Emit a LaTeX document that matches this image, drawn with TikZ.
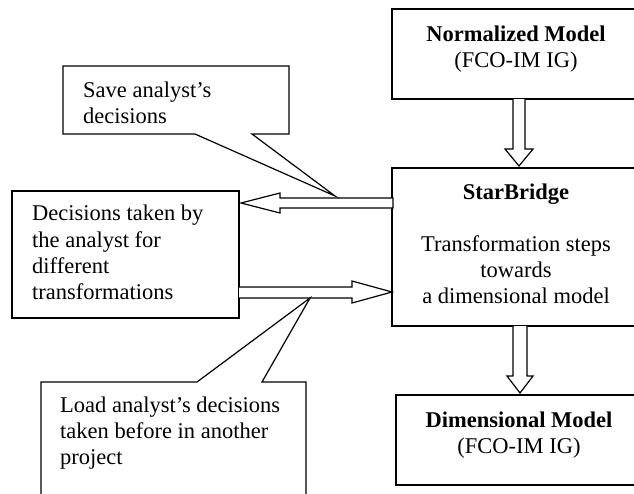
\documentclass[tikz,border=0pt]{standalone}
\usepackage{fontspec}
\setmainfont{Liberation Serif}
\begin{document}
\begin{tikzpicture}[x=1pt,y=-1pt,
  ln/.style={line width=1.2pt,line join=miter},
  boxst/.style={ln,draw=black,fill=white},
  lbl/.style={anchor=base west,inner sep=0pt,font=\fontsize{22.5}{26.3}\selectfont},
  clbl/.style={anchor=base,inner sep=0pt,font=\fontsize{22.5}{26.3}\selectfont},
  blbl/.style={anchor=base,inner sep=0pt,font=\fontsize{22.5}{26.3}\selectfont\bfseries}]
\useasboundingbox (0,0) rectangle (634,493);
\clip (0,0) rectangle (634,493);
% coordinates of box corners
\coordinate (normNW) at (392,9);   \coordinate (normSE) at (660,99);
\coordinate (starNW) at (392,168); \coordinate (starSE) at (660,326);
\coordinate (dimNW) at (396,395);  \coordinate (dimSE) at (660,485);
\coordinate (decNW) at (12,191);   \coordinate (decSE) at (239,318);
% boxes
\draw[boxst] (normNW) rectangle (normSE);
\draw[boxst] (starNW) rectangle (starSE);
\draw[boxst] (dimNW) rectangle (dimSE);
\draw[boxst] (decNW) rectangle (decSE);
% block arrow normalized -> starbridge
\draw[boxst] (513,99) -- (513,149) -- (505,149) -- (519,166) -- (533,149) -- (525,149) -- (525,99);
% block arrow starbridge -> dimensional
\draw[boxst] (513,326) -- (513,376) -- (507,376) -- (520,393) -- (533,376) -- (527,376) -- (527,326);
% block arrow starbridge -> decisions
\draw[boxst] (393,198) -- (280,198) -- (280,193) -- (241,203) -- (280,213) -- (280,208) -- (393,208) -- cycle;
% block arrow decisions -> starbridge
\draw[boxst] (239,287) -- (352,287) -- (352,281) -- (392,292) -- (352,303) -- (352,298) -- (239,298);
% callouts
\coordinate (saveTip) at (335,196);
\draw[boxst] (63,66) -- (289,66) -- (289,134) -- (252,134) -- (saveTip) -- (195,134) -- (63,134) -- cycle;
\coordinate (loadTip) at (310,298);
\draw[boxst] (41,382) -- (197,382) -- (loadTip) -- (262,382) -- (306,382) -- (306,520) -- (41,520) -- cycle;
% texts
\node[blbl] (n1) at (516,41) {Normalized Model};
\node[clbl] (n2) at (516,67) {(FCO-IM IG)};
\node[blbl] (s1) at (516,199) {StarBridge};
\node[clbl] (s2) at (516,251) {Transformation steps};
\node[clbl] (s3) at (516,277) {towards};
\node[clbl] (s4) at (516,303) {a dimensional model};
\node[blbl] (d1) at (519,427) {Dimensional Model};
\node[clbl] (d2) at (519,453) {(FCO-IM IG)};
\node[lbl] (v1) at (83,97) {Save analyst's};
\node[lbl] (v2) at (83,123) {decisions};
\node[lbl] (c1) at (32,220) {Decisions taken by};
\node[lbl] (c2) at (32,247) {the analyst for};
\node[lbl] (c3) at (32,273) {different};
\node[lbl] (c4) at (32,299) {transformations};
\node[lbl] (l1) at (60,412) {Load analyst's decisions};
\node[lbl] (l2) at (60,438) {taken before in another};
\node[lbl] (l3) at (60,464) {project};
\end{tikzpicture}
\end{document}
